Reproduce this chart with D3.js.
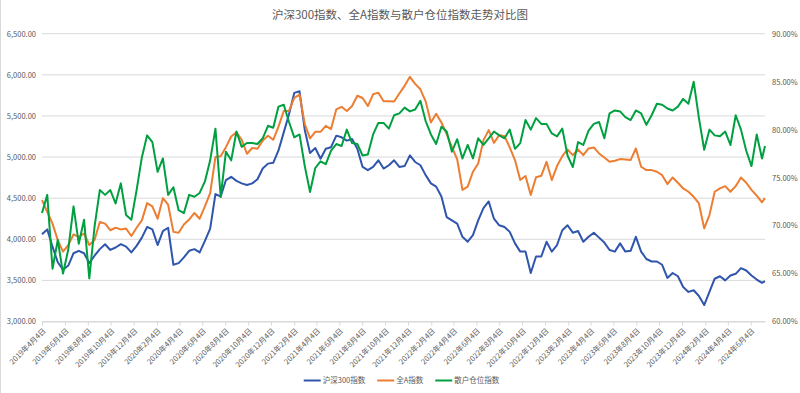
<!DOCTYPE html>
<html>
<head>
<meta charset="utf-8">
<script src="https://cdn.jsdelivr.net/npm/d3@7"></script>
<style>
body { margin: 0; background: #fff; }
text { font-family: "Noto Sans CJK SC", "Noto Sans", sans-serif; fill: #595959; }
</style>
</head>
<body>
<svg id="chart"></svg>
<script>
// data, one value every two weeks from 2019-04-04
const seriesNames = ['沪深300指数', '全A指数', '散户仓位指数'];

const csi300 = [
  4060, 4120, 3910, 3720, 3630, 3680, 3830, 3860, 3830, 3710,
  3800, 3880, 3940, 3870, 3900, 3940, 3910, 3840, 3920, 4020,
  4150, 4120, 3930, 4100, 4140, 3690, 3710, 3780, 3860, 3880,
  3840, 3980, 4130, 4550, 4520, 4720, 4760, 4710, 4680, 4660,
  4680, 4730, 4860, 4920, 4930, 5080, 5300, 5520, 5780, 5800,
  5330, 5050, 5110, 4980, 5100, 5120, 5260, 5240, 5200, 5220,
  5100, 4880, 4840, 4880, 4960, 4860, 4900, 4960, 4880, 4890,
  5020, 4940, 4900, 4780, 4680, 4640, 4520, 4270, 4230, 4190,
  4030, 3970, 4050, 4230, 4380, 4460, 4250, 4170, 4150, 4090,
  3950, 3850, 3850, 3590, 3790, 3790, 3970, 3850, 3930, 4110,
  4170, 4080, 4100, 3970, 4030, 4080, 4020, 3960, 3870, 3850,
  3950, 3850, 3860, 4030, 3850, 3760, 3730, 3730, 3690, 3530,
  3590, 3550, 3420, 3360, 3380, 3310, 3200, 3360, 3520, 3550,
  3500, 3560, 3580, 3650, 3620, 3560, 3510, 3470, 3490
];

const allA = [
  4476, 4335, 4190, 3990, 3850, 3930, 4060, 4030, 4070, 3930,
  3990, 4210, 4190, 4110, 4140, 4120, 4130, 4040, 4140, 4230,
  4440, 4400, 4250, 4500, 4420, 4090, 4080, 4180, 4240, 4320,
  4250, 4400, 4560, 5000, 5010, 5120, 5250, 5300, 5210, 5040,
  5110, 5100, 5200, 5260, 5210, 5370, 5560, 5560, 5720, 5760,
  5400, 5226, 5307, 5307, 5380, 5340, 5580, 5611, 5560, 5620,
  5745, 5718, 5620, 5763, 5783, 5678, 5678, 5676, 5773, 5866,
  5976, 5890, 5824, 5678, 5420, 5526, 5420, 5280, 5120, 4973,
  4600, 4640, 4821, 4922, 5206, 5327, 5173, 5267, 5254, 5117,
  4963, 4720, 4770, 4540, 4755, 4772, 4942, 4720, 4890, 5011,
  5092, 5023, 5092, 5023, 5104, 5117, 5044, 4995, 4942, 4955,
  4975, 4971, 4963, 5104, 4882, 4841, 4841, 4821, 4780, 4671,
  4752, 4687, 4618, 4578, 4517, 4436, 4132, 4294, 4578, 4618,
  4646, 4578, 4646, 4752, 4687, 4600, 4530, 4450, 4500
];

// percent, right axis
const retailPos = [
  71.3, 73.2, 65.5, 68.5, 65.0, 67.5, 72.0, 68.1, 70.6, 64.5,
  69.9, 73.7, 73.2, 73.7, 72.3, 74.4, 71.1, 70.6, 73.7, 77.1,
  79.4, 78.7, 75.6, 77.0, 73.2, 74.0, 71.6, 71.3, 73.2, 73.0,
  73.4, 74.6, 76.8, 80.1, 73.0, 77.7, 76.8, 79.8, 78.2, 78.6,
  78.6, 78.5, 79.1, 80.4, 80.2, 82.4, 82.6, 80.8, 79.2, 79.5,
  76.2, 73.5, 76.0, 76.7, 76.4, 77.8, 78.5, 78.3, 80.0, 78.6,
  78.5, 77.3, 77.4, 79.5, 80.7, 80.7, 80.1, 81.5, 81.7, 82.3,
  81.9, 82.1, 83.0, 80.9, 79.5, 78.5, 80.3, 79.8, 77.7, 79.0,
  77.0, 78.4, 77.0, 79.1, 78.4, 79.1, 79.8, 79.4, 79.1, 80.0,
  78.0, 78.6, 81.0, 80.0, 81.2, 80.6, 80.6, 79.6, 79.3, 80.1,
  77.3, 76.1, 78.7, 78.4, 79.9, 80.6, 80.8, 79.1, 81.7, 82.0,
  81.9, 81.3, 81.0, 82.0, 81.7, 80.5, 81.5, 82.7, 82.6, 82.2,
  82.0, 82.4, 83.2, 82.7, 85.0, 81.2, 77.9, 80.0, 79.4, 79.3,
  79.8, 78.4, 81.5, 80.0, 77.8, 76.2, 79.5, 77.0, 78.3
];

const leftTicks = [3000, 3500, 4000, 4500, 5000, 5500, 6000, 6500];
const rightTicks = [60, 65, 70, 75, 80, 85, 90];

const startDate = new Date(2019, 3, 4);
const endDate = new Date(2024, 6, 12);

const w = 800;
const h = 393;
const plot = { left: 42, right: 765, top: 33.7, bottom: 321.5 };
const colors = ['#2f55ad', '#ed7d31', '#00a040'];
const textColor = '#595959';

const svg = d3.select('#chart').attr('width', w).attr('height', h);

// two-week steps, last point is the final week
const dates = csi300.map((d, i) => i === csi300.length - 1 ? endDate : d3.timeDay.offset(startDate, 14 * i));
const xTicks = d3.range(32).map(k => d3.timeMonth.offset(startDate, 2 * k));

const xScale = d3.scaleTime().domain([startDate, endDate]).range([plot.left, plot.right]);
const yLeft = d3.scaleLinear().domain([3000, 6500]).range([plot.bottom, plot.top]);
const yRight = d3.scaleLinear().domain([60, 90]).range([plot.bottom, plot.top]);

// thin frame line on the left edge
svg.append('line')
  .attr('x1', 0.5).attr('x2', 0.5).attr('y1', 0).attr('y2', h)
  .attr('stroke', '#d9d9d9');

// title
svg.append('text')
  .attr('x', 400).attr('y', 19)
  .attr('text-anchor', 'middle')
  .style('font-size', '11.5px')
  .style('fill', textColor)
  .text('沪深300指数、全A指数与散户仓位指数走势对比图');

// gridlines
svg.append('g')
  .selectAll('line')
  .data(leftTicks)
  .join('line')
  .attr('x1', plot.left).attr('x2', plot.right)
  .attr('y1', d => yLeft(d)).attr('y2', d => yLeft(d))
  .attr('stroke', '#d9d9d9')
  .attr('stroke-width', 1);

// axes
const gLeft = svg.append('g')
  .attr('transform', `translate(${plot.left},0)`)
  .call(d3.axisLeft(yLeft).tickValues(leftTicks).tickSize(0).tickPadding(6).tickFormat(d3.format(',.2f')));
gLeft.select('.domain').remove();

const gRight = svg.append('g')
  .attr('transform', `translate(${plot.right},0)`)
  .call(d3.axisRight(yRight).tickValues(rightTicks).tickSize(0).tickPadding(7).tickFormat(d => d.toFixed(2) + '%'));
gRight.select('.domain').remove();

const gX = svg.append('g')
  .attr('transform', `translate(0,${plot.bottom})`)
  .call(d3.axisBottom(xScale).tickValues(xTicks).tickSize(4).tickSizeOuter(0).tickFormat(d3.timeFormat('%Y年%-m月%-d日')));
gX.select('.domain').attr('stroke', '#d9d9d9');
gX.selectAll('.tick line').attr('stroke', '#d9d9d9');
gX.selectAll('.tick text')
  .attr('x', 0).attr('y', 0).attr('dy', '0.35em')
  .attr('text-anchor', 'end')
  .attr('transform', 'translate(2,8) rotate(-45)');

svg.selectAll('.tick text')
  .style('font-size', '7.5px')
  .style('fill', textColor);

// lines
const lineLeft = d3.line().x((d, i) => xScale(dates[i])).y(d => yLeft(d));
const lineRight = d3.line().x((d, i) => xScale(dates[i])).y(d => yRight(d));

[[csi300, lineLeft], [allA, lineLeft], [retailPos, lineRight]].forEach(([vals, gen], k) => {
  svg.append('path')
    .datum(vals)
    .attr('d', gen)
    .attr('fill', 'none')
    .attr('stroke', colors[k])
    .attr('stroke-width', 2)
    .attr('stroke-linejoin', 'round');
});

// legend, centred under the plot
const legend = svg.append('g');
let lx = 0;
seriesNames.forEach((name, k) => {
  legend.append('line')
    .attr('x1', lx).attr('x2', lx + 17).attr('y1', 0).attr('y2', 0)
    .attr('stroke', colors[k]).attr('stroke-width', 2);
  const t = legend.append('text')
    .attr('x', lx + 19).attr('y', 0).attr('dy', '0.35em')
    .style('font-size', '7.5px')
    .style('fill', textColor)
    .text(name);
  lx += 19 + t.node().getComputedTextLength() + 12;
});
lx -= 12;
legend.attr('transform', `translate(${401.5 - lx / 2},380.5)`);
</script>
</body>
</html>
